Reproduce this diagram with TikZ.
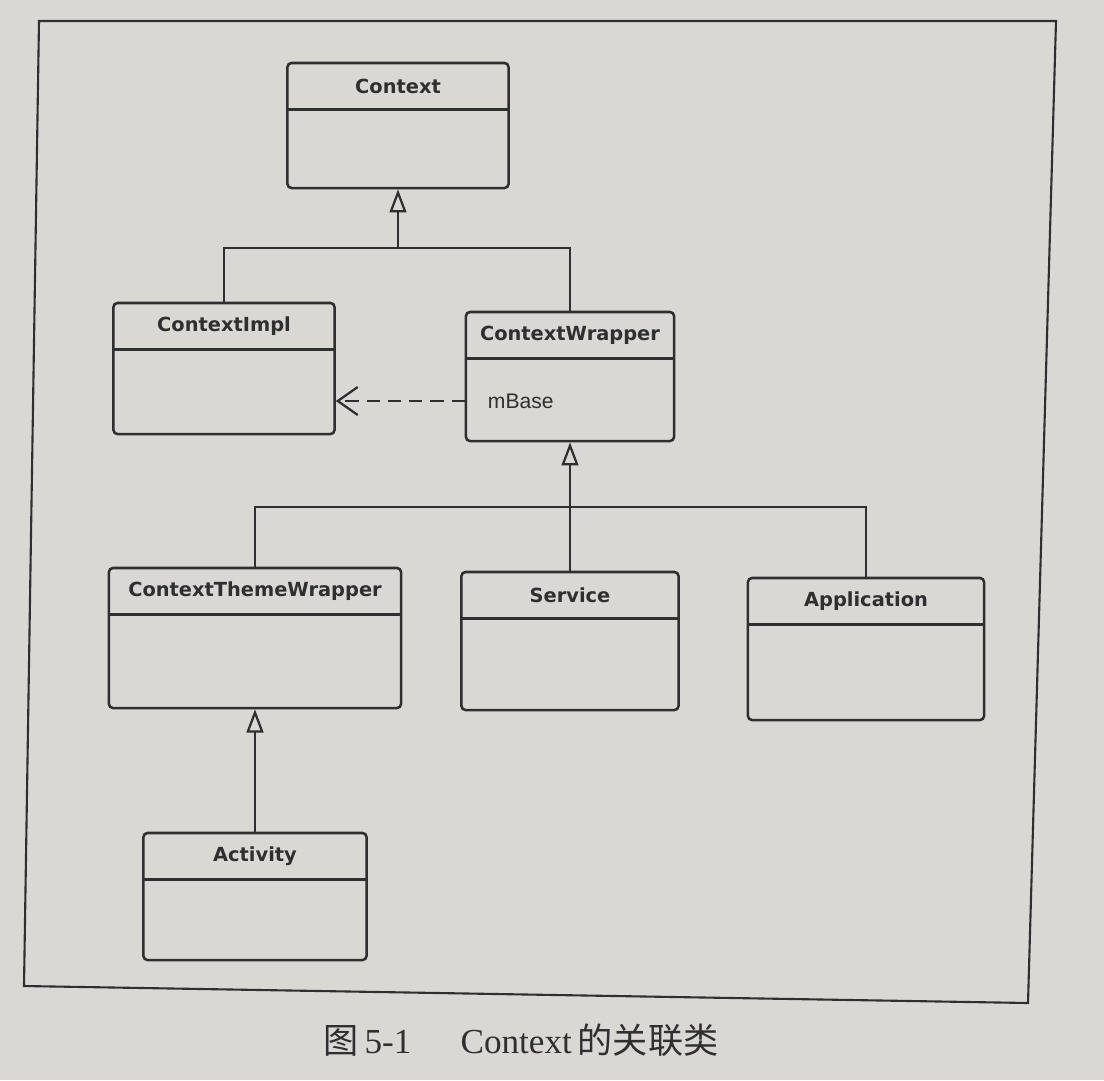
\documentclass[tikz,border=0pt]{standalone}
\usepackage{fontspec}
\usepackage{xcolor}
\usepackage{tikz}
\usetikzlibrary{arrows.meta}
\newfontfamily\umlfont{DejaVu Sans}
\newfontfamily\attrfont{Liberation Sans}
\newfontfamily\capfont{Liberation Serif}
\newfontfamily\cjk{Noto Sans CJK SC}
\definecolor{paper}{HTML}{D9D8D5}
\definecolor{ink}{HTML}{2F2F2F}
\tikzset{
  cls/.style={rectangle,draw=ink,line width=1.8pt,rounded corners=1mm,inner sep=0pt},
  cname/.style={font=\umlfont\bfseries\fontsize{13.8}{15}\selectfont,text=ink},
  cattr/.style={font=\attrfont\fontsize{15}{17}\selectfont,text=ink,anchor=west},
  sep/.style={draw=ink,line width=1.8pt},
  link/.style={draw=ink,line width=1.7pt},
  isa/.style={link,-{Triangle[open,length=5.8mm,width=4.2mm,line width=1.6pt]}},
  uses/.style={link,dash pattern=on 3.3mm off 2mm,
    -{Straight Barb[length=5mm,width=7mm,line width=1.6pt]}},
  ccap/.style={font=\fontsize{25}{29}\selectfont,text=ink}
}
\begin{document}
\begin{tikzpicture}[x=0.025cm,y=-0.025cm]
  \fill[paper] (0,0) rectangle (1104,1080);
  \useasboundingbox (0,0) rectangle (1104,1080);
  \draw[draw=ink,line width=1.5pt] (39,21) -- (1056,21) -- (1028,1003) -- (24,986) -- cycle;

  % class boxes: name / label / centre / size
  \foreach \nm/\txt/\x/\y/\w/\h in {
      ctx/Context/398/125.5/5.525/3.125,
      impl/ContextImpl/224/368.5/5.525/3.275,
      wrap/ContextWrapper/570/376.5/5.2/3.225,
      ctw/ContextThemeWrapper/255/638/7.3/3.5,
      svc/Service/570/641/5.425/3.45,
      app/Application/866/649/5.9/3.55,
      act/Activity/255/896.5/5.575/3.175} {
    \node[cls,minimum width=\w cm,minimum height=\h cm] (\nm) at (\x,\y) {};
    \node[cname] (\nm-name) at ([yshift=-6.2mm]\nm.north) {\txt};
    \draw[sep] ([yshift=-12mm]\nm.north west) -- ([yshift=-12mm]\nm.north east);
  }
  \node[cattr] (mbase) at (483,401) {mBase};

  % inheritance
  \coordinate (j1) at (398,248);
  \draw[link] (impl.north) |- (j1) -| (wrap.north);
  \draw[isa] (j1) -- (ctx.south);
  \coordinate (j2) at (570,507);
  \draw[link] (ctw.north) |- (j2) -| (app.north);
  \draw[isa] (svc.north) -- (wrap.south);
  \draw[isa] (act.north) -- (ctw.south);

  % reference
  \draw[uses] (wrap.west |- mbase) -- (impl.east |- mbase);

  \node[ccap] (caption) at (521,1040)
    {{\cjk 图}\,{\capfont 5-1}\hspace{1.4em}{\capfont Context}\,{\cjk 的关联类}};
\end{tikzpicture}
\end{document}
